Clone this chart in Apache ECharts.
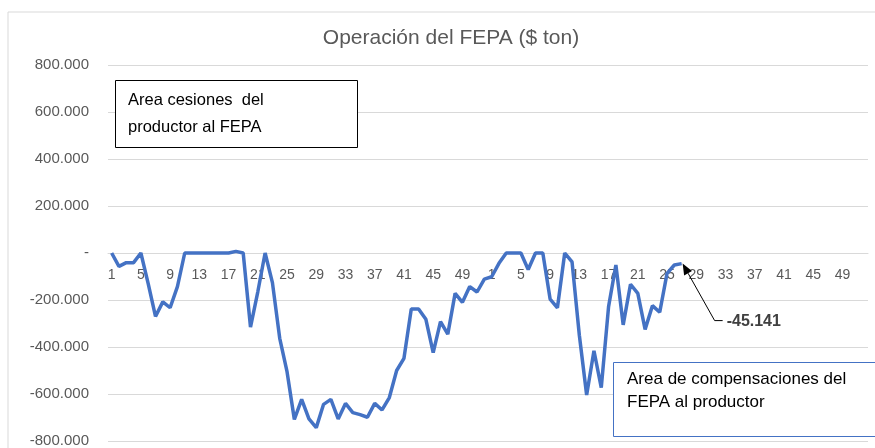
<!DOCTYPE html>
<html>
<head>
<meta charset="utf-8">
<script src="https://cdn.jsdelivr.net/npm/echarts@6/dist/echarts.min.js"></script>
<style>
  html, body { margin: 0; padding: 0; background: #fff; }
  #chart { width: 875px; height: 448px; }
</style>
</head>
<body>
<div id="chart"></div>
<script>
// semanas: dos años seguidos (1..52, 1..52)
const weeksYear1 = Array.from({ length: 52 }, (_, i) => String(i + 1));
const weeksYear2 = Array.from({ length: 52 }, (_, i) => String(i + 1));
const categories = weeksYear1.concat(weeksYear2);

// operación FEPA ($ ton), año 1 completo
const fepaYear1 = [
  0, -57000, -41000, -41000, 0, -130000, -270000, -208000, -233000, -143000,
  0, 0, 0, 0, 0, 0, 0, 7000, 0, -315000,
  -165000, 0, -126000, -363000, -505000, -708000, -623000, -706000, -743000, -644000,
  -623000, -706000, -640000, -679000, -688000, -699000, -640000, -668000, -615000, -500000,
  -448000, -238000, -238000, -282000, -424000, -292000, -345000, -172000, -210000, -143000,
  -166000, -111000
];
// año 2 hasta la semana 27
const fepaYear2 = [
  -101000, -44000, 0, 0, 0, -70000, 0, 0, -196000, -233000,
  0, -38000, -350000, -604000, -416000, -573000, -228000, -51000, -306000, -133000,
  -172000, -325000, -224000, -252000, -87000, -51000, -45141
];
const fepa = fepaYear1.concat(fepaYear2);

const yTicks = { min: -800000, max: 800000, step: 200000 };

const fmt = v => {
  if (v === 0) return '-';
  const s = String(Math.abs(v)).replace(/\B(?=(\d{3})+(?!\d))/g, '.');
  return (v < 0 ? '-' : '') + s;
};

const chart = echarts.init(document.getElementById('chart'));
const font = 'Liberation Sans, Arial, sans-serif';
const gridTop = 65, gridBottom = 7;
// el eje de categorías cruza en 0, que está a media altura (min = -max)
const zeroOffset = -(448 - gridTop - gridBottom) / 2;

chart.setOption({
  animation: false,
  title: {
    text: 'Operación del FEPA ($ ton)',
    left: 446, top: 23, textAlign: 'center',
    textStyle: { fontFamily: font, fontSize: 21, fontWeight: 'normal', color: '#595959' }
  },
  grid: { left: 108, right: 7, top: gridTop, bottom: gridBottom, containLabel: false, outerBoundsMode: 'none' },
  xAxis: {
    type: 'category',
    data: categories,
    boundaryGap: true,
    position: 'bottom',
    offset: zeroOffset,
    z: 0,
    axisLine: { onZero: false, lineStyle: { color: '#d9d9d9' } },
    axisTick: { show: false },
    axisLabel: { interval: 3, margin: 15, fontFamily: font, fontSize: 14, color: '#595959' }
  },
  yAxis: {
    type: 'value',
    min: yTicks.min, max: yTicks.max, interval: yTicks.step,
    axisLine: { show: false },
    axisTick: { show: false },
    splitLine: { lineStyle: { color: '#d9d9d9' } },
    axisLabel: { margin: 19, fontFamily: font, fontSize: 15, color: '#595959', formatter: fmt }
  },
  series: [{
    type: 'line',
    data: fepa,
    symbol: 'none',
    lineStyle: { color: '#4472C4', width: 3.5 },
    z: 5
  }]
});

// anotación con flecha al último valor
const lastIdx = fepa.length - 1;
const p = chart.convertToPixel({ seriesIndex: 0 }, [lastIdx, fepa[lastIdx]]);
const tip = [p[0] + 1, p[1]];
const end = [p[0] + 33, p[1] + 57];
const dx = tip[0] - end[0], dy = tip[1] - end[1];
const len = Math.sqrt(dx * dx + dy * dy);
const ux = dx / len, uy = dy / len;
const head = 11, half = 4.5;
const base = [tip[0] - ux * head, tip[1] - uy * head];

chart.setOption({
  graphic: [
    { type: 'rect', shape: { x: 8, y: 12, width: 900, height: 460 },
      style: { fill: 'none', stroke: '#d9d9d9', lineWidth: 1 }, silent: true, z: -1 },
    { type: 'rect', shape: { x: 115.5, y: 80.5, width: 242, height: 67 },
      style: { fill: '#fff', stroke: '#000', lineWidth: 1 }, z: 10 },
    { type: 'text', x: 128, y: 87, z: 11,
      style: { text: 'Area cesiones  del\nproductor al FEPA', font: '16.5px ' + font, fill: '#000', lineHeight: 27 } },
    { type: 'rect', shape: { x: 613.5, y: 362.5, width: 280, height: 74 },
      style: { fill: '#fff', stroke: '#4472C4', lineWidth: 1 }, z: 10 },
    { type: 'text', x: 627, y: 368, z: 11,
      style: { text: 'Area de compensaciones del\nFEPA al productor', font: '17px ' + font, fill: '#000', lineHeight: 23 } },
    { type: 'polyline', z: 12,
      shape: { points: [[end[0] + 8, end[1]], end, base] },
      style: { stroke: '#000', lineWidth: 1, fill: 'none' } },
    { type: 'polygon', z: 12,
      shape: { points: [tip, [base[0] - uy * half, base[1] + ux * half], [base[0] + uy * half, base[1] - ux * half]] },
      style: { fill: '#000' } },
    { type: 'text', x: end[0] + 12, y: end[1] + 1, z: 12,
      style: { text: fmt(fepa[lastIdx]), font: 'bold 16px ' + font, fill: '#404040', verticalAlign: 'middle' } }
  ]
});
</script>
</body>
</html>
